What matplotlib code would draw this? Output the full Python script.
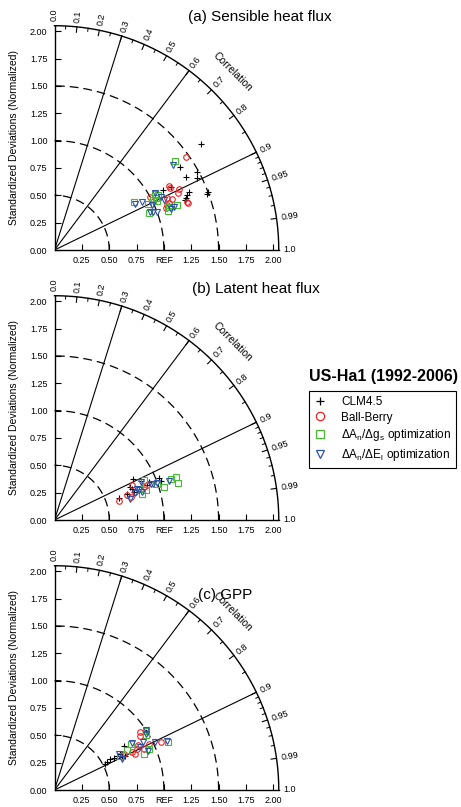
import numpy as np
import matplotlib.pyplot as plt
from matplotlib.lines import Line2D

plt.rcParams['font.family'] = ['Liberation Sans', 'DejaVu Sans']
plt.rcParams['mathtext.fontset'] = 'custom'
plt.rcParams['mathtext.rm'] = 'Liberation Sans'
plt.rcParams['mathtext.default'] = 'regular'

# normalized standard deviation / correlation, one pair of lists per model and flux
# (a) sensible heat flux
clm_a_std = [1.653, 1.373, 1.372, 1.486, 1.457, 1.212, 1.136, 1.338, 1.289, 1.275, 1.480, 1.505, 1.314]
clm_a_cor = [0.812, 0.835, 0.874, 0.879, 0.892, 0.881, 0.875, 0.919, 0.930, 0.933, 0.939, 0.935, 0.925]
bb_a_std = [1.472, 1.199, 1.197, 1.267, 1.245, 1.293, 1.293, 1.134, 1.130, 1.105, 1.085, 0.995, 1.165]
bb_a_cor = [0.817, 0.872, 0.881, 0.898, 0.909, 0.940, 0.944, 0.909, 0.926, 0.928, 0.936, 0.876, 0.918]
gs_a_std = [1.365, 0.847, 0.955, 1.049, 1.041, 1.041, 0.927, 1.119, 1.097, 1.194, 1.011, 1.074]
gs_a_cor = [0.805, 0.856, 0.897, 0.874, 0.888, 0.902, 0.930, 0.935, 0.945, 0.940, 0.890, 0.885]
ei_a_std = [1.335, 0.849, 0.915, 1.054, 1.086, 1.100, 0.984, 0.968, 1.000, 0.938, 1.126, 1.162]
ei_a_cor = [0.811, 0.868, 0.875, 0.870, 0.893, 0.909, 0.908, 0.932, 0.939, 0.930, 0.942, 0.940]

# (b) latent heat flux
clm_b_std = [0.806, 0.870, 0.930, 1.027, 1.034, 0.701, 0.766, 0.769, 0.905, 0.619, 0.756]
clm_b_cor = [0.888, 0.912, 0.927, 0.929, 0.938, 0.939, 0.927, 0.943, 0.937, 0.948, 0.918]
bb_b_std = [0.614, 0.780, 0.703, 0.732, 0.905, 0.783, 0.873]
bb_b_cor = [0.961, 0.910, 0.944, 0.958, 0.937, 0.945, 0.939]
gs_b_std = [1.175, 1.180, 1.045, 1.124, 0.894, 0.884, 0.837, 0.996, 0.829]
gs_b_cor = [0.942, 0.959, 0.957, 0.944, 0.914, 0.951, 0.958, 0.943, 0.941]
ei_b_std = [1.105, 0.998, 0.959, 0.866, 0.818, 0.842, 0.780, 0.721, 0.809, 0.940]
ei_b_cor = [0.947, 0.941, 0.941, 0.916, 0.943, 0.952, 0.949, 0.963, 0.935, 0.936]

# (c) GPP
clm_c_std = [0.752, 0.687, 0.653, 0.614, 0.585, 0.543, 0.522, 0.721, 0.689]
clm_c_cor = [0.842, 0.878, 0.876, 0.881, 0.874, 0.886, 0.891, 0.900, 0.900]
bb_c_std = [0.942, 0.925, 1.064, 0.959, 0.865, 0.844, 0.810, 0.789, 0.713, 0.899]
bb_c_cor = [0.828, 0.843, 0.912, 0.899, 0.880, 0.896, 0.914, 0.900, 0.888, 0.909]
gs_c_std = [0.996, 0.973, 1.127, 0.820, 0.881, 0.756, 0.940, 0.675]
gs_c_cor = [0.838, 0.855, 0.920, 0.858, 0.927, 0.878, 0.917, 0.889]
ei_c_std = [1.125, 1.016, 0.999, 0.978, 0.916, 0.829, 0.878, 0.926, 0.680, 0.673]
ei_c_cor = [0.916, 0.901, 0.833, 0.851, 0.879, 0.856, 0.895, 0.921, 0.909, 0.872]

model_names = ['CLM4.5', 'Ball-Berry',
               'ΔA$_n$/Δg$_s$ optimization', 'ΔA$_n$/ΔE$_l$ optimization']
model_marker = ['+', 'o', 's', 'v']
model_color = ['black', '#ee2222', '#44bb33', '#2f50a8']

sd_ticks = [0.25, 0.5, 0.75, 1.0, 1.25, 1.5, 1.75, 2.0]
x_ticklabels = ['0.25', '0.50', '0.75', 'REF', '1.25', '1.50', '1.75', '2.00']
cor_major = [0.1, 0.2, 0.3, 0.4, 0.5, 0.6, 0.7, 0.8, 0.9, 0.95, 0.99]
cor_minor = [0.05, 0.15, 0.25, 0.35, 0.45, 0.55, 0.65, 0.75, 0.85,
             0.91, 0.92, 0.93, 0.94, 0.96, 0.97, 0.98]
cor_labels = ['0.0', '0.1', '0.2', '0.3', '0.4', '0.5', '0.6', '0.7', '0.8',
              '0.9', '0.95', '0.99', '1.0']

RMAX = 2.05


def taylor(ax, series, title, tx, ty):
    ax.set_xlim(0, RMAX)
    ax.set_ylim(0, RMAX)
    for s in ['top', 'right']:
        ax.spines[s].set_visible(False)
    for s in ['left', 'bottom']:
        ax.spines[s].set_linewidth(1.0)
    ax.set_xticks(sd_ticks)
    ax.set_xticklabels(x_ticklabels)
    ax.set_yticks([0.0] + sd_ticks)
    ax.set_yticklabels(['%.2f' % v for v in [0.0] + sd_ticks])
    ax.tick_params(direction='in', length=4, width=0.8, labelsize=6.5)
    ax.tick_params(axis='x', pad=4)
    ax.tick_params(axis='y', pad=5)

    th = np.linspace(0, np.pi / 2, 300)
    ax.plot(RMAX * np.cos(th), RMAX * np.sin(th), color='black', lw=1.0, clip_on=False)
    # standard deviation circles
    for r in [0.5, 1.0, 1.5]:
        ax.plot(r * np.cos(th), r * np.sin(th), color='black', lw=0.9,
                ls=(0, (7, 4)), clip_on=False)
    # correlation rays
    for c in [0.3, 0.6, 0.9]:
        a = np.arccos(c)
        ax.plot([0, RMAX * np.cos(a)], [0, RMAX * np.sin(a)], color='black', lw=0.8)

    for c in cor_major:
        a = np.arccos(c)
        ax.plot([RMAX * np.cos(a), (RMAX - 0.05) * np.cos(a)],
                [RMAX * np.sin(a), (RMAX - 0.05) * np.sin(a)], color='black', lw=0.8)
    for c in cor_minor:
        a = np.arccos(c)
        ax.plot([RMAX * np.cos(a), (RMAX - 0.028) * np.cos(a)],
                [RMAX * np.sin(a), (RMAX - 0.028) * np.sin(a)], color='black', lw=0.7)
    for lab in cor_labels:
        a = np.arccos(float(lab))
        ax.text((RMAX + 0.04) * np.cos(a), (RMAX + 0.04) * np.sin(a), lab,
                rotation=np.degrees(a), rotation_mode='anchor',
                ha='left', va='center', fontsize=6.5)
    ax.text(2.3 * np.cos(np.pi / 4), 2.3 * np.sin(np.pi / 4), 'Correlation',
            rotation=-45, ha='center', va='center', fontsize=7.5)

    ax.text(-0.37, 1.03, 'Standardized Deviations (Normalized)', rotation=90,
            ha='center', va='center', fontsize=7.5)
    ax.text(tx, ty, title, ha='center', va='center', fontsize=11)

    for (sd, cc), m, col in zip(series, model_marker, model_color):
        sd = np.array(sd)
        a = np.arccos(np.array(cc))
        ax.plot(sd * np.cos(a), sd * np.sin(a), ls='none', marker=m, ms=4,
                mfc='none', mec=col, mew=0.8, clip_on=False, zorder=3)


fig = plt.figure(figsize=(4.61, 8.07), dpi=100)
W, H = 461.0, 807.0
ox, scale = 54.5, 109.4
panels = [
    (250, [(clm_a_std, clm_a_cor), (bb_a_std, bb_a_cor), (gs_a_std, gs_a_cor), (ei_a_std, ei_a_cor)],
     '(a) Sensible heat flux', 1.875, 2.13),
    (520, [(clm_b_std, clm_b_cor), (bb_b_std, bb_b_cor), (gs_b_std, gs_b_cor), (ei_b_std, ei_b_cor)],
     '(b) Latent heat flux', 1.84, 2.11),
    (790, [(clm_c_std, clm_c_cor), (bb_c_std, bb_c_cor), (gs_c_std, gs_c_cor), (ei_c_std, ei_c_cor)],
     '(c) GPP', 1.56, 1.78),
]
for oy, series, title, tx, ty in panels:
    ax = fig.add_axes([ox / W, (H - oy) / H, RMAX * scale / W, RMAX * scale / H])
    taylor(ax, series, title, tx, ty)

fig.text(383 / W, 1 - 376 / H, 'US-Ha1 (1992-2006)', ha='center', va='center',
         fontsize=11.5, fontweight='bold')
handles = [Line2D([], [], ls='none', marker=m, ms=6, mfc='none', mec=c, mew=0.9)
           for m, c in zip(model_marker, model_color)]
leg = fig.legend(handles, model_names, loc='upper left',
                 bbox_to_anchor=(309 / W, 1 - 391 / H), frameon=True, fancybox=False,
                 edgecolor='black', framealpha=1, fontsize=8.5, handlelength=1.0,
                 handletextpad=1.3, labelspacing=0.32, borderpad=0.4, borderaxespad=0)
leg.get_frame().set_linewidth(0.8)

fig.savefig('out.png', dpi=100)
